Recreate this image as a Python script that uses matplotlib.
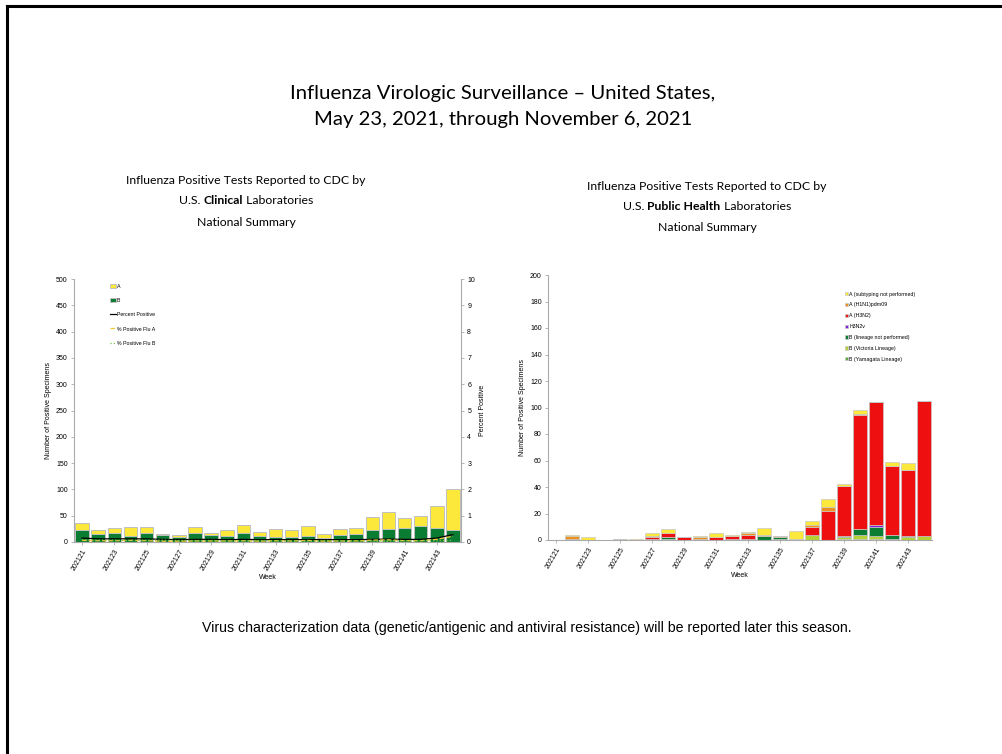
import numpy as np
import matplotlib
matplotlib.use("Agg")
import matplotlib.pyplot as plt
from matplotlib.lines import Line2D

# weeks 202121 .. 202144
weeks = [str(202121 + i) for i in range(24)]

# clinical labs
clin_total = [37, 23, 27, 29, 29, 16, 13, 28, 18, 23, 32, 19,
              25, 23, 30, 15, 25, 27, 48, 57, 46, 49, 68, 101]
clin_b = [23, 15, 18, 12, 17, 13, 9, 17, 13, 12, 18, 11,
          10, 10, 12, 8, 13, 16, 23, 25, 27, 30, 27, 23]
clin_a = [t - b for t, b in zip(clin_total, clin_b)]
pct_pos = [0.15, 0.12, 0.12, 0.12, 0.12, 0.10, 0.09, 0.10, 0.10, 0.09, 0.10, 0.09,
           0.09, 0.09, 0.09, 0.09, 0.09, 0.09, 0.10, 0.11, 0.10, 0.10, 0.15, 0.28]
pct_a = [0.06, 0.05, 0.05, 0.06, 0.05, 0.03, 0.03, 0.04, 0.04, 0.04, 0.05, 0.03,
         0.05, 0.04, 0.06, 0.03, 0.04, 0.04, 0.07, 0.08, 0.05, 0.05, 0.10, 0.22]
pct_b = [0.09, 0.07, 0.07, 0.06, 0.07, 0.07, 0.06, 0.06, 0.06, 0.05, 0.05, 0.06,
         0.04, 0.05, 0.03, 0.06, 0.05, 0.05, 0.03, 0.03, 0.05, 0.05, 0.05, 0.06]

# public health labs (bottom -> top stacking)
b_yam   = [0, 0, 0, 0, 0, 0, 0, 0, 0, 0, 0, 0, 0, 0, 0, 0, 0, 0, 1, 1, 1, 1, 0, 0]
b_vic   = [0, 0, 0, 0, 0, 0, 0, 1, 0, 0, 0, 0, 0, 0, 1, 0, 4, 0, 1, 3, 2, 0, 2, 3]
b_lnp   = [0, 1, 0, 0, 0, 0, 1, 1, 0, 0, 0, 0, 1, 3, 1, 1, 0, 0, 1, 4, 7, 3, 1, 0]
h3n2v   = [0, 0, 0, 0, 0, 0, 0, 0, 0, 0, 0, 1, 0, 0, 0, 0, 0, 0, 0, 0, 1, 0, 0, 0]
a_h3n2  = [0, 0, 0, 0, 0, 0, 1, 3, 2, 1, 2, 2, 3, 0, 0, 0, 6, 22, 38, 86, 93, 52, 50, 102]
a_h1n1  = [0, 2, 0, 0, 1, 0, 1, 0, 0, 1, 0, 0, 1, 1, 1, 0, 1, 3, 0, 1, 0, 0, 0, 0]
a_unsub = [0, 1, 2, 0, 0, 1, 2, 3, 0, 1, 3, 1, 1, 5, 0, 6, 3, 6, 1, 3, 0, 3, 5, 0]

ph_series = [
    ("B (Yamagata Lineage)", b_yam, "#5FA83A"),
    ("B (Victoria Lineage)", b_vic, "#B3D335"),
    ("B (lineage not performed)", b_lnp, "#0B7D33"),
    ("H3N2v", h3n2v, "#7A22D8"),
    ("A (H3N2)", a_h3n2, "#EE1010"),
    ("A (H1N1)pdm09", a_h1n1, "#EE9020"),
    ("A (subtyping not performed)", a_unsub, "#FCE83A"),
]

W, H = 1003, 754
fig = plt.figure(figsize=(W / 100, H / 100), dpi=100)
plt.rcParams['font.family'] = ['Liberation Sans', 'DejaVu Sans']
renderer = fig.canvas.get_renderer()


def px_axes(x0, y0, x1, y1):
    return fig.add_axes([x0 / W, 1 - y1 / H, (x1 - x0) / W, (y1 - y0) / H])


def mixed_line(cx, cy, parts, fs, family):
    # parts: list of (text, weight); drawn side by side, centred on cx (pixels)
    texts = [fig.text(0, 1 - cy / H, s, fontsize=fs, family=family, fontweight=w,
                      ha="left", va="center") for s, w in parts]
    widths = [t.get_window_extent(renderer).width for t in texts]
    xpos = cx - sum(widths) / 2
    for t, wd in zip(texts, widths):
        t.set_x(xpos / W)
        xpos += wd


# frame lines of the slide
fig.add_artist(Line2D([7 / W, 7 / W], [0, 1 - 6 / H], color="black", lw=2.2))
fig.add_artist(Line2D([7 / W, 1], [1 - 6 / H, 1 - 6 / H], color="black", lw=2.2))

title_font = ['Lato', 'DejaVu Sans']
fig.text(503 / W, 1 - 93 / H, "Influenza Virologic Surveillance – United States,",
         ha="center", va="center", fontsize=14.6, family=title_font)
fig.text(503 / W, 1 - 119 / H, "May 23, 2021, through November 6, 2021",
         ha="center", va="center", fontsize=14.6, family=title_font)

sub_fs = 8.8
mixed_line(246, 180, [("Influenza Positive Tests Reported to CDC by", "normal")], sub_fs, title_font)
mixed_line(246, 201, [("U.S. ", "normal"), ("Clinical", "bold"), (" Laboratories", "normal")],
           sub_fs, title_font)
mixed_line(246, 222, [("National Summary", "normal")], sub_fs, title_font)

mixed_line(707, 186, [("Influenza Positive Tests Reported to CDC by", "normal")], sub_fs, title_font)
mixed_line(707, 207, [("U.S. ", "normal"), ("Public Health", "bold"), (" Laboratories", "normal")],
           sub_fs, title_font)
mixed_line(707, 228, [("National Summary", "normal")], sub_fs, title_font)

fig.text(527 / W, 1 - 628 / H,
         "Virus characterization data (genetic/antigenic and antiviral resistance) will be reported later this season.",
         ha="center", va="center", fontsize=10.2, family=['Liberation Sans'])

x = np.arange(len(weeks))
tick_fs = 5
spine_col = "#AAAAAA"


def style_axes(ax):
    for s in ["top", "right"]:
        ax.spines[s].set_visible(False)
    for s in ["left", "bottom"]:
        ax.spines[s].set_color(spine_col)
        ax.spines[s].set_linewidth(0.8)
    ax.tick_params(labelsize=tick_fs, length=2.5, width=0.6, color=spine_col, pad=2)
    ax.set_xticks(x[::2])
    ax.set_xticklabels(weeks[::2], rotation=60, ha="right", rotation_mode="anchor")
    ax.set_xlim(-0.5, len(weeks) - 0.5)
    ax.set_xlabel("Week", fontsize=tick_fs, labelpad=1)
    ax.set_ylabel("Number of Positive Specimens", fontsize=tick_fs, labelpad=3)


# ---- left chart: clinical labs ----
ax1 = px_axes(74, 279, 461, 542)
style_axes(ax1)
ax1.bar(x, clin_b, width=0.84, color="#0B7D33", edgecolor="#C0C0C0", linewidth=0.7, label="B")
ax1.bar(x, clin_a, width=0.84, bottom=clin_b, color="#FCE83A", edgecolor="#C0C0C0",
        linewidth=0.7, label="A")
ax1.set_ylim(0, 500)
ax1.set_yticks(range(0, 501, 50))

ax1r = ax1.twinx()
ax1r.set_ylim(0, 10)
ax1r.set_yticks(range(0, 11))
for s in ["top", "left", "bottom"]:
    ax1r.spines[s].set_visible(False)
ax1r.spines["right"].set_color(spine_col)
ax1r.spines["right"].set_linewidth(0.8)
ax1r.tick_params(labelsize=tick_fs, length=2.5, width=0.6, color=spine_col, pad=2)
ax1r.set_ylabel("Percent Positive", fontsize=tick_fs, labelpad=3)
l1, = ax1r.plot(x, pct_pos, color="black", lw=0.9, label="Percent Positive")
l2, = ax1r.plot(x, pct_a, color="#F2C83A", lw=0.9, ls="--", label="% Positive Flu A")
l3, = ax1r.plot(x, pct_b, color="#7CC242", lw=0.9, ls=":", label="% Positive Flu B")

h, lab = ax1.get_legend_handles_labels()
handles = [h[1], h[0], l1, l2, l3]
labels = [lab[1], lab[0], l1.get_label(), l2.get_label(), l3.get_label()]
ax1r.legend(handles, labels, loc="upper left", bbox_to_anchor=(0.08, 1.0), fontsize=3.8,
            frameon=False, labelspacing=1.75, handlelength=1.2, handleheight=0.9,
            handletextpad=0.1)

# ---- right chart: public health labs ----
ax2 = px_axes(548, 275, 932, 540)
style_axes(ax2)
bottom = np.zeros(len(weeks))
for name, vals, col in ph_series:
    ax2.bar(x, vals, width=0.85, bottom=bottom, color=col, edgecolor="#C8C8C8",
            linewidth=0.5, label=name)
    bottom += np.array(vals)
ax2.set_ylim(0, 200)
ax2.set_yticks(range(0, 201, 20))
h, lab = ax2.get_legend_handles_labels()
ax2.legend(h[::-1], lab[::-1], loc="upper left", bbox_to_anchor=(0.76, 0.955), fontsize=3.8,
           frameon=False, labelspacing=1.1, handlelength=0.6, handleheight=0.6,
           handletextpad=0.3)

fig.savefig("out.png", dpi=100)
